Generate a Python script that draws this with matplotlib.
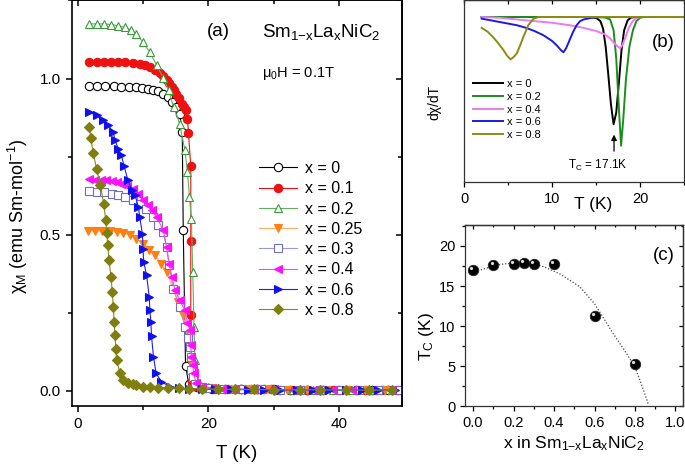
import matplotlib
matplotlib.use('Agg')
import matplotlib.pyplot as plt
from matplotlib.ticker import MultipleLocator, FormatStrFormatter
from matplotlib.transforms import offset_copy

plt.rcParams['font.family'] = ['Liberation Sans', 'DejaVu Sans']
plt.rcParams['mathtext.fontset'] = 'custom'
plt.rcParams['mathtext.rm'] = 'Liberation Sans'
plt.rcParams['mathtext.it'] = 'Liberation Sans'

# --- (a) chi_M(T) ---
T_x0 = [1.8, 3.0, 4.2, 5.5, 6.7, 7.9, 9.0, 9.9, 10.8, 11.6, 12.3, 13.1, 13.8, 14.5, 15.1, 15.6, 16.0, 16.15,
        16.5, 17.0, 17.5, 18.2, 19.2, 20.5, 22.5, 25.0, 27.5, 30.0, 32.5, 35.0, 37.5, 40.0, 42.5, 45.0, 47.5, 49.5]
chi_x0 = [0.975, 0.975, 0.975, 0.975, 0.974, 0.973, 0.972, 0.970, 0.967, 0.964, 0.959, 0.951, 0.940, 0.924,
          0.908, 0.887, 0.828, 0.516, 0.080, 0.022, 0.014, 0.011, 0.009, 0.007, 0.006, 0.005, 0.004, 0.004,
          0.003, 0.003, 0.003, 0.002, 0.002, 0.002, 0.002, 0.002]

T_x01 = [1.8, 2.9, 4.0, 5.1, 6.2, 7.3, 8.4, 9.5, 10.3, 11.05, 11.8, 12.6, 13.1, 13.6, 14.0, 14.4, 14.8, 15.1,
         15.5, 15.9, 16.2, 16.5, 16.8, 16.95, 17.3, 17.3, 17.3, 17.35, 17.5, 17.8, 18.5, 19.5, 21, 23, 25, 26.5,
         27.5, 28.5, 29.5, 31, 33, 35, 37, 39, 41.5, 44, 46.5, 49]
chi_x01 = [1.054, 1.054, 1.054, 1.054, 1.053, 1.052, 1.050, 1.047, 1.043, 1.036, 1.027, 1.017, 1.007, 0.996,
           0.985, 0.974, 0.963, 0.951, 0.936, 0.919, 0.908, 0.898, 0.871, 0.825, 0.72, 0.48, 0.242, 0.10, 0.03,
           0.015, 0.011, 0.009, 0.007, 0.006, 0.005, 0.005, 0.004, 0.004, 0.004, 0.003, 0.003, 0.003, 0.002,
           0.002, 0.002, 0.002, 0.002, 0.002]

T_x02 = [1.8, 2.9, 4.0, 5.1, 6.2, 7.2, 8.15, 9.0, 10.0, 11.05, 12.1, 13.1, 13.9, 14.7, 15.6, 16.4, 16.8, 17.1,
         17.4, 17.6, 17.8, 17.95, 18.2, 18.8, 20.0, 21.5, 24, 27, 30, 33, 36, 39, 42, 45, 48]
chi_x02 = [1.175, 1.175, 1.175, 1.173, 1.169, 1.164, 1.156, 1.143, 1.116, 1.084, 1.042, 1.002, 0.962, 0.908,
           0.855, 0.77, 0.70, 0.62, 0.55, 0.38, 0.205, 0.098, 0.03, 0.015, 0.011, 0.008, 0.006, 0.005, 0.004,
           0.003, 0.003, 0.002, 0.002, 0.002, 0.002]

T_x025 = [1.6, 2.7, 3.8, 4.9, 6.0, 7.0, 8.0, 9.0, 10.0, 10.9, 11.8, 12.8, 13.6, 14.6, 15.4, 16.1, 16.7, 17.2,
          17.4, 17.7, 18.1, 19, 20.5, 23, 26, 29, 32, 35, 38, 41, 44, 47]
chi_x025 = [0.512, 0.512, 0.511, 0.510, 0.508, 0.505, 0.499, 0.487, 0.47, 0.45, 0.434, 0.407, 0.38, 0.327,
            0.285, 0.242, 0.194, 0.136, 0.088, 0.045, 0.02, 0.012, 0.009, 0.006, 0.005, 0.004, 0.003, 0.003,
            0.002, 0.002, 0.002, 0.002]

T_x03 = [1.8, 2.9, 4.0, 5.2, 6.2, 7.2, 8.5, 9.5, 10.5, 11.6, 12.3, 13.1, 13.6, 14.0, 14.6, 15.6, 16.4, 16.9,
         17.2, 17.3, 17.4, 17.6, 18.0, 18.8, 20, 22, 25, 28, 31, 34, 37, 40, 43, 46, 49]
chi_x03 = [0.639, 0.638, 0.636, 0.631, 0.627, 0.62, 0.61, 0.599, 0.583, 0.556, 0.53, 0.508, 0.46, 0.402,
           0.327, 0.269, 0.205, 0.17, 0.141, 0.109, 0.066, 0.045, 0.02, 0.012, 0.009, 0.007, 0.005, 0.004,
           0.003, 0.003, 0.002, 0.002, 0.002, 0.002, 0.002]

T_x04 = [1.8, 2.7, 3.6, 4.4, 5.3, 6.0, 6.7, 7.6, 8.5, 9.3, 10.0, 10.7, 11.3, 12.1, 13.1, 13.6, 14.0, 14.4,
         14.9, 15.6, 16.4, 16.8, 17.2, 17.3, 17.4, 17.6, 17.75, 18.1, 19, 20.5, 22, 24, 27, 30, 33, 36, 39,
         42, 45, 48]
chi_x04 = [0.677, 0.676, 0.675, 0.674, 0.671, 0.668, 0.663, 0.656, 0.647, 0.63, 0.61, 0.594, 0.578, 0.556,
           0.514, 0.46, 0.407, 0.365, 0.322, 0.29, 0.258, 0.216, 0.194, 0.146, 0.109, 0.082, 0.056, 0.025,
           0.013, 0.009, 0.007, 0.006, 0.005, 0.004, 0.003, 0.003, 0.002, 0.002, 0.002, 0.002]

T_x06 = [1.8, 2.9, 3.9, 4.7, 5.45, 5.7, 6.2, 6.7, 7.1, 7.7, 8.3, 8.8, 9.3, 9.5, 9.9, 10.0, 10.1, 10.55,
         10.95, 11.05, 11.2, 11.3, 11.6, 12.0, 12.8, 14.1, 15.5, 17, 19, 21, 23.5, 26, 28.5, 31, 33.5, 36,
         38.5, 41, 43.5, 46, 48.5]
chi_x06 = [0.892, 0.882, 0.866, 0.85, 0.828, 0.804, 0.775, 0.754, 0.72, 0.674, 0.642, 0.626, 0.588, 0.556,
           0.503, 0.455, 0.413, 0.37, 0.30, 0.258, 0.221, 0.175, 0.109, 0.056, 0.029, 0.013, 0.008, 0.006,
           0.005, 0.004, 0.004, 0.003, 0.003, 0.003, 0.002, 0.002, 0.002, 0.002, 0.002, 0.002, 0.002]

T_x08 = [1.8, 2.0, 2.4, 2.9, 3.5, 4.0, 4.3, 4.45, 4.6, 4.8, 5.1, 5.3, 5.45, 5.6, 5.7, 5.85, 5.95, 6.5, 7.0,
         7.7, 8.5, 9.0, 10.0, 11.0, 12.3, 13.8, 15.5, 17, 19, 21.5, 24, 27, 30, 34, 37, 41, 44.5, 48]
chi_x08 = [0.846, 0.81, 0.76, 0.711, 0.658, 0.597, 0.546, 0.505, 0.466, 0.418, 0.365, 0.317, 0.269, 0.221,
           0.178, 0.135, 0.098, 0.056, 0.034, 0.024, 0.02, 0.017, 0.013, 0.011, 0.01, 0.009, 0.008, 0.007,
           0.006, 0.005, 0.004, 0.004, 0.003, 0.003, 0.003, 0.002, 0.002, 0.002]

# --- (b) dchi/dT (arb. units) ---
Tb_x0 = [2, 4, 6, 8, 10, 12, 14, 15.0, 15.5, 15.8, 16.1, 16.4, 16.7, 17.0, 17.3, 17.6, 17.9, 18.2, 18.6, 19.0, 20, 22, 25]
db_x0 = [0, 0, 0, 0, 0, 0, 0, -0.5, -2.5, -7, -18, -35, -53, -65, -58, -40, -20, -8, -2, -0.3, 0, 0, 0]
Tb_x02 = [2, 6, 10, 14, 16.0, 16.6, 17.0, 17.3, 17.6, 17.85, 18.1, 18.4, 18.8, 19.2, 19.6, 20.0, 20.5, 22, 25]
db_x02 = [0, 0, 0, 0, -0.3, -1.5, -8, -25, -55, -78, -62, -38, -18, -8, -2.5, -0.5, 0, 0, 0]
Tb_x04 = [2, 4, 6, 8, 10, 12, 13.5, 15, 16, 16.6, 17.1, 17.5, 17.75, 18.0, 18.3, 18.7, 19.1, 19.5, 20, 22, 25]
db_x04 = [0, -0.5, -1.5, -2.5, -3.5, -5, -6.5, -8.5, -10.5, -13, -16, -18, -19, -17, -13, -7, -3, -1, 0, 0, 0]
Tb_x06 = [2, 3, 4, 5, 6, 7, 8, 9, 10, 10.5, 11.0, 11.3, 11.6, 12.0, 12.4, 12.8, 13.2, 13.6, 14.5, 15.5, 18, 22, 25]
db_x06 = [-1, -2, -3, -4, -5, -6.5, -8.5, -11, -14.5, -17, -20, -21.4, -19, -14, -9, -5, -2.5, -1.5, -0.5, 0, 0, 0, 0]
Tb_x08 = [2, 2.7, 3.3, 3.9, 4.5, 4.9, 5.3, 5.7, 6.0, 6.4, 6.75, 7.3, 7.9, 8.5, 10, 15, 20, 25]
db_x08 = [-6.6, -9, -12.2, -16, -20.2, -23.5, -25.7, -24, -22, -17, -12, -5, -1.1, 0, 0, 0, 0, 0]

# --- (c) Tc vs x ---
x_la = [0, 0.1, 0.2, 0.25, 0.3, 0.4, 0.6, 0.8]
tc = [17.0, 17.6, 17.8, 17.9, 17.8, 17.8, 11.3, 5.3]
x_guide = [-0.02, 0.05, 0.1, 0.15, 0.2, 0.25, 0.3, 0.35, 0.43, 0.528, 0.6, 0.693, 0.759, 0.8, 0.825, 0.857, 0.865]
tc_guide = [16.5, 17.1, 17.5, 17.75, 17.85, 17.85, 17.7, 17.4, 16.5, 14.9, 12.8, 9.06, 6.57, 4.9, 3.24, 0.96, 0.3]

FORMULA = 'Sm$_\\mathrm{1{-}x}$La$_\\mathrm{x}$NiC$_\\mathrm{2}$'


def mirror_ticks(ax, xmaj, xmin, ymaj, ymin, length, lw):
    # ticks pointing inward on top and right, like Origin
    sx = ax.secondary_xaxis('top')
    sx.xaxis.set_major_locator(MultipleLocator(xmaj))
    sx.xaxis.set_minor_locator(MultipleLocator(xmin))
    sx.tick_params(which='both', direction='in', labeltop=False, width=lw)
    sx.tick_params(which='major', length=length)
    sx.tick_params(which='minor', length=length * 0.6)
    sx.spines['top'].set_linewidth(lw)
    if ymaj is not None:
        sy = ax.secondary_yaxis('right')
        sy.yaxis.set_major_locator(MultipleLocator(ymaj))
        sy.yaxis.set_minor_locator(MultipleLocator(ymin))
        sy.tick_params(which='both', direction='in', labelright=False, width=lw)
        sy.tick_params(which='major', length=length)
        sy.tick_params(which='minor', length=length * 0.6)
        sy.spines['right'].set_linewidth(lw)


fig = plt.figure(figsize=(6.85, 4.67), dpi=100)
ax_a = fig.add_axes([0.1047, 0.1313, 0.4822, 0.8677])
ax_b = fig.add_axes([0.6774, 0.6103, 0.3211, 0.3887])
ax_c = fig.add_axes([0.6788, 0.1296, 0.3182, 0.3886])

# ---------- panel (a) ----------
series_a = [
    (T_x0, chi_x0, 'o', 'black', 'white', 'black', 'x = 0'),
    (T_x01, chi_x01, 'o', '#ee1111', '#ee1111', '#ee1111', 'x = 0.1'),
    (T_x02, chi_x02, '^', '#3a9a3a', 'white', '#60b060', 'x = 0.2'),
    (T_x025, chi_x025, 'v', '#ff7f10', '#ff7f10', '#ffaa66', 'x = 0.25'),
    (T_x03, chi_x03, 's', '#7070c0', 'white', '#9a9ad0', 'x = 0.3'),
    (T_x04, chi_x04, '<', '#ff10ff', '#ff10ff', '#ff40ff', 'x = 0.4'),
    (T_x06, chi_x06, '>', '#1010ee', '#1010ee', '#2020ee', 'x = 0.6'),
    (T_x08, chi_x08, 'D', '#7f7f10', '#7f7f10', '#8a8a20', 'x = 0.8'),
]
for T, chi, mk, mec, mfc, lc, lab in series_a:
    ms = 5 if mk == 'D' else 6
    ax_a.plot(T, chi, color=lc, lw=0.8, marker=mk, ms=ms, mec=mec, mfc=mfc, mew=0.8, label=lab)

ax_a.set_xlim(-0.9, 49.6)
ax_a.set_ylim(-0.048, 1.25)
ax_a.xaxis.set_major_locator(MultipleLocator(20))
ax_a.xaxis.set_minor_locator(MultipleLocator(10))
ax_a.yaxis.set_major_locator(MultipleLocator(0.5))
ax_a.yaxis.set_minor_locator(MultipleLocator(0.25))
ax_a.yaxis.set_major_formatter(FormatStrFormatter('%.1f'))
ax_a.tick_params(which='both', direction='out', labelsize=11, width=1.1)
ax_a.tick_params(which='major', length=4.5)
ax_a.tick_params(which='minor', length=3)
for s in ax_a.spines.values():
    s.set_linewidth(1.2)
mirror_ticks(ax_a, 20, 10, 0.5, 0.25, 4.5, 1.1)
ax_a.set_xlabel('T (K)', fontsize=13.5)
ax_a.xaxis.set_label_coords(0.5, -0.098)
ax_a.set_ylabel('χ$_\\mathrm{M}$ (emu Sm-mol$^\\mathrm{-1}$)', fontsize=13)
ax_a.yaxis.set_label_coords(-0.125, 0.4676)

ax_a.text(21.5, 1.15, '(a)', fontsize=13.5, ha='center', va='center')
ax_a.text(28.2, 1.15, FORMULA, fontsize=13.5, ha='left', va='center')
ax_a.text(28.2, 1.016, 'μ$_\\mathrm{0}$H = 0.1T', fontsize=10.5, ha='left', va='center')

ax_a.legend(loc='upper left', bbox_to_anchor=(259 / 685, 1 - 161 / 467), bbox_transform=fig.transFigure,
            frameon=False, fontsize=11.5, handlelength=2.4, handletextpad=0.45, labelspacing=0.33,
            borderpad=0, borderaxespad=0)

# ---------- panel (b) ----------
series_b = [
    (Tb_x0, db_x0, 'black', 'x = 0'),
    (Tb_x02, db_x02, '#1e8c1e', 'x = 0.2'),
    (Tb_x04, db_x04, '#ee7aee', 'x = 0.4'),
    (Tb_x06, db_x06, '#1a1ae6', 'x = 0.6'),
    (Tb_x08, db_x08, '#8c8c10', 'x = 0.8'),
]
for T, d, c, lab in series_b:
    ax_b.plot(T, d, color=c, lw=1.4, label=lab)

ax_b.set_xlim(0, 25)
ax_b.set_ylim(-100, 10)
ax_b.set_yticks([])
ax_b.xaxis.set_major_locator(MultipleLocator(10))
ax_b.xaxis.set_minor_locator(MultipleLocator(5))
ax_b.tick_params(which='both', direction='out', labelsize=10.5, width=0.9)
ax_b.tick_params(which='major', length=3.5)
ax_b.tick_params(which='minor', length=2.2)
for s in ax_b.spines.values():
    s.set_linewidth(0.9)
    s.set_color('#333333')
mirror_ticks(ax_b, 5, 5, None, None, 3, 0.9)
ax_b.set_xlabel('T (K)', fontsize=12.5)
ax_b.xaxis.set_label_coords(0.586, -0.085)
ax_b.set_ylabel('dχ/dT', fontsize=10)
ax_b.yaxis.set_label_coords(-0.105, 0.441)
ax_b.text(22.65, -15.2, '(b)', fontsize=13.5, ha='center', va='center')
ax_b.annotate('', xy=(17.05, -69.6), xytext=(17.05, -83),
              arrowprops=dict(arrowstyle='-|>', color='black', lw=0.9, mutation_scale=8))
ax_b.text(15.2, -89.7, 'T$_\\mathrm{C}$ = 17.1K', fontsize=8.5, ha='center', va='center')
ax_b.legend(loc='upper left', bbox_to_anchor=(473 / 685, 1 - 79 / 467), bbox_transform=fig.transFigure,
            frameon=False, fontsize=8, handlelength=2.7, handletextpad=0.35, labelspacing=0.25,
            borderpad=0, borderaxespad=0)

# ---------- panel (c) ----------
ax_c.plot(x_guide, tc_guide, color='#444444', lw=0.9, ls=(0, (1, 1.5)))
ax_c.plot(x_la, tc, ls='none', marker='o', ms=7.5, mfc='black', mec='#222222', mew=0.6)
hl = offset_copy(ax_c.transData, fig=fig, x=-1.2, y=1.2, units='points')
ax_c.plot(x_la, tc, ls='none', marker='o', ms=2.3, mfc='#dddddd', mec='none', transform=hl)

ax_c.set_xlim(-0.04, 1.037)
ax_c.set_ylim(0, 22.6)
ax_c.xaxis.set_major_locator(MultipleLocator(0.2))
ax_c.xaxis.set_minor_locator(MultipleLocator(0.1))
ax_c.xaxis.set_major_formatter(FormatStrFormatter('%.1f'))
ax_c.yaxis.set_major_locator(MultipleLocator(5))
ax_c.yaxis.set_minor_locator(MultipleLocator(2.5))
ax_c.tick_params(which='both', direction='out', labelsize=10.5, width=0.9)
ax_c.tick_params(which='major', length=3.5)
ax_c.tick_params(which='minor', length=2.2)
for s in ax_c.spines.values():
    s.set_linewidth(0.9)
    s.set_color('#333333')
mirror_ticks(ax_c, 0.2, 0.1, 5, 2.5, 3, 0.9)
ax_c.set_xlabel('x in ' + FORMULA, fontsize=12.5)
ax_c.xaxis.set_label_coords(0.5, -0.155)
ax_c.set_ylabel('T$_\\mathrm{C}$ (K)', fontsize=12.5)
ax_c.yaxis.set_label_coords(-0.135, 0.383)
ax_c.text(0.94, 18.8, '(c)', fontsize=13.5, ha='center', va='center')

fig.savefig('out.png', dpi=100)
